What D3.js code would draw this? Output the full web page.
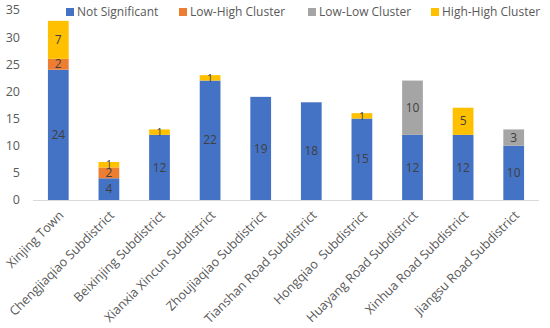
<!DOCTYPE html>
<html><head><meta charset="utf-8">
<script src="https://cdn.jsdelivr.net/npm/d3@7"></script>
<style>body{margin:0;background:#fff}svg{display:block}text{font-family:"Open Sans",sans-serif}</style>
</head><body><svg id="c" width="550" height="328"></svg>
<script>
const categories = ["Xinjing Town","Chengjiaqiao Subdistrict","Beixinjing Subdistrict","Xianxia Xincun Subdistrict","Zhoujiaqiao Subdistrict","Tianshan Road Subdistrict","Hongqiao  Subdistrict","Huayang Road Subdistrict","Xinhua Road Subdistrict","Jiangsu Road Subdistrict"];
const seriesNames = ["Not Significant","Low-High Cluster","Low-Low Cluster","High-High Cluster"];
const notSignificant = [24,4,12,22,19,18,15,12,12,10];
const lowHigh = [2,2,0,0,0,0,0,0,0,0];
const lowLow = [0,0,0,0,0,0,0,10,0,3];
const highHigh = [7,1,1,1,0,0,1,0,5,0];
const yTicks = [0,5,10,15,20,25,30,35];
const colors = ["#4472C4","#ED7D31","#A5A5A5","#FFC000"];

const svg = d3.select("#c");
const rows = categories.map((c,i)=>({cat:c,"Not Significant":notSignificant[i],"Low-High Cluster":lowHigh[i],"Low-Low Cluster":lowLow[i],"High-High Cluster":highHigh[i]}));
const stack = d3.stack().keys(seriesNames)(rows);
const x = d3.scaleBand().domain(categories).range([33,539]).paddingInner(0.59).paddingOuter(0.295);
const y = d3.scaleLinear().domain([0,35]).range([200,10]);

// y axis labels
svg.append("g").selectAll("text").data(yTicks).join("text")
  .attr("x",20).attr("y",d=>y(d)).attr("dy","0.35em").attr("text-anchor","end")
  .attr("font-size",12.5).attr("fill","#595959").text(d=>d);

// bars
const g = svg.append("g");
stack.forEach((s,si)=>{
  g.append("g").selectAll("rect").data(s).join("rect")
    .attr("x",d=>x(d.data.cat)).attr("width",x.bandwidth())
    .attr("y",d=>y(d[1])).attr("height",d=>y(d[0])-y(d[1]))
    .attr("fill",colors[si]);
});
// axis line
svg.append("line").attr("x1",33).attr("x2",539).attr("y1",y(0)+0.5).attr("y2",y(0)+0.5).attr("stroke","#D9D9D9").attr("stroke-width",1);

// value labels
stack.forEach((s,si)=>{
  g.append("g").selectAll("text").data(s.filter(d=>d[1]-d[0]>0)).join("text")
    .attr("x",d=>x(d.data.cat)+x.bandwidth()/2).attr("y",d=>(y(d[0])+y(d[1]))/2)
    .attr("dy","0.35em").attr("text-anchor","middle").attr("font-size",d=>(d[1]-d[0])===1?10.5:12)
    .attr("fill","#404040").text(d=>d[1]-d[0]);
});

// x labels
svg.append("g").selectAll("text").data(categories).join("text")
  .attr("transform",d=>`translate(${x(d)+x.bandwidth()/2+3},${213}) rotate(-45)`)
  .attr("dy","0.35em").attr("text-anchor","end").attr("font-size",12.6)
  .attr("fill","#595959").attr("xml:space","preserve").style("white-space","pre").text(d=>d);

// legend
const legX = [66,179,308,431];
const lg = svg.append("g").selectAll("g").data(seriesNames).join("g")
  .attr("transform",(d,i)=>`translate(${legX[i]},12)`);
lg.append("rect").attr("x",0).attr("y",-4).attr("width",8).attr("height",8).attr("fill",(d,i)=>colors[i]);
lg.append("text").attr("x",11).attr("y",0).attr("dy","0.35em").attr("font-size",12).attr("fill","#595959").text(d=>d);
</script></body></html>
